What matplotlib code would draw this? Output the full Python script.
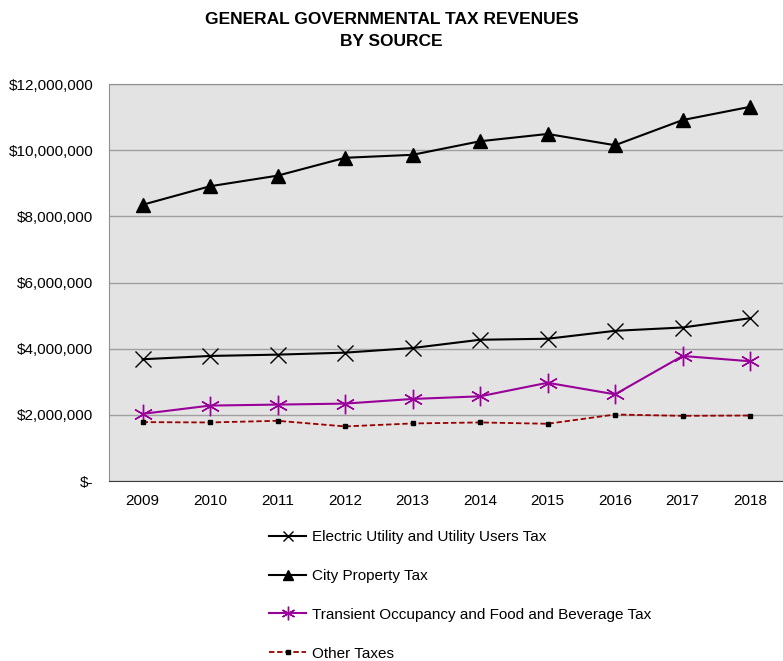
import matplotlib.pyplot as plt
from matplotlib.ticker import FuncFormatter

plt.rcParams['font.family'] = ['Liberation Sans Narrow', 'Liberation Sans', 'DejaVu Sans']

years = ['2009', '2010', '2011', '2012', '2013', '2014', '2015', '2016', '2017', '2018']

electric = [3680000, 3780000, 3820000, 3880000, 4020000, 4270000, 4300000, 4540000, 4640000, 4920000]
property_tax = [8350000, 8910000, 9230000, 9770000, 9860000, 10270000, 10490000, 10150000, 10910000, 11310000]
transient = [2030000, 2280000, 2310000, 2340000, 2480000, 2560000, 2970000, 2620000, 3780000, 3620000]
other = [1780000, 1770000, 1820000, 1650000, 1740000, 1770000, 1730000, 2010000, 1970000, 1980000]

labels = [
    "Electric Utility and Utility Users Tax",
    "City Property Tax",
    "Transient Occupancy and Food and Beverage Tax",
    "Other Taxes",
]


def money(v, pos):
    if v == 0:
        return "$-"
    return "${:,.0f}".format(v)


fig = plt.figure(figsize=(7.83, 6.61), dpi=100)
ax = fig.add_axes([0.139, 0.2723, 0.862, 0.6006])
ax.set_facecolor("#E3E3E3")

x = range(len(years))
ax.plot(x, electric, color="black", lw=1.5, marker="x", ms=11, mew=1.0, label=labels[0])
ax.plot(x, property_tax, color="black", lw=1.5, marker="^", ms=10, label=labels[1])
ax.plot(x, transient, color="#990099", lw=1.5, marker=(6, 2, 0), ms=14, mew=1.0,
        mec="#990099", label=labels[2])
ax.plot(x, other, color="#990000", lw=1.3, ls=(0, (3, 1.5)), marker="s", ms=3.5,
        mfc="black", mec="black", label=labels[3])

ax.set_xlim(-0.5, len(years) - 0.5)
ax.set_ylim(0, 12000000)
ax.set_yticks(range(0, 12000001, 2000000))
ax.yaxis.set_major_formatter(FuncFormatter(money))
ax.set_xticks(list(x))
ax.set_xticklabels(years)
ax.tick_params(axis="both", length=0, labelsize=11, pad=9)
ax.tick_params(axis="y", pad=11)
ax.grid(axis="y", color="#A0A0A0", lw=1)
ax.set_axisbelow(True)

for s in ["top", "left"]:
    ax.spines[s].set_color("#909090")
ax.spines["right"].set_visible(False)
ax.spines["bottom"].set_color("#404040")

fig.suptitle("GENERAL GOVERNMENTAL TAX REVENUES\nBY SOURCE", x=0.5, y=0.982,
             fontsize=12.5, fontweight="bold", linespacing=1.6)

fig.legend(loc="upper left", bbox_to_anchor=(0.336, 0.207), frameon=False,
           fontsize=11, labelspacing=1.62, handlelength=2.4, handletextpad=0.4,
           markerscale=0.7, borderaxespad=0)

fig.savefig("out.png", dpi=100)
